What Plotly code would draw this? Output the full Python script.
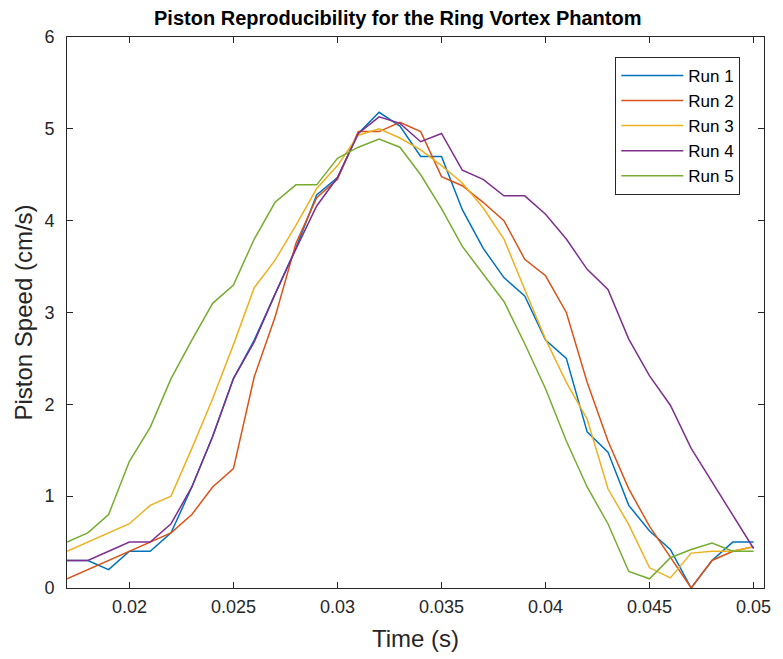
import plotly.graph_objects as go

# Sample times (s)
time_s = [0.017, 0.018, 0.019, 0.020, 0.021, 0.022, 0.023, 0.024, 0.025, 0.026,
          0.027, 0.028, 0.029, 0.030, 0.031, 0.032, 0.033, 0.034, 0.035, 0.036,
          0.037, 0.038, 0.039, 0.040, 0.041, 0.042, 0.043, 0.044, 0.045, 0.046,
          0.047, 0.048, 0.049, 0.050]

# Piston speed per run (cm/s)
run1 = [0.30, 0.30, 0.20, 0.40, 0.40, 0.60, 1.10, 1.65, 2.28, 2.70,
        3.20, 3.70, 4.28, 4.47, 4.95, 5.18, 5.03, 4.70, 4.70, 4.12,
        3.70, 3.38, 3.18, 2.70, 2.50, 1.70, 1.48, 0.90, 0.62, 0.42,
        0.00, 0.30, 0.50, 0.50]
run2 = [0.10, 0.20, 0.30, 0.40, 0.50, 0.60, 0.80, 1.10, 1.30, 2.30,
        2.95, 3.75, 4.25, 4.45, 4.97, 4.97, 5.07, 4.97, 4.48, 4.38,
        4.20, 4.00, 3.58, 3.40, 3.00, 2.24, 1.60, 1.08, 0.67, 0.33,
        0.00, 0.30, 0.40, 0.45]
run3 = [0.40, 0.50, 0.60, 0.70, 0.90, 1.00, 1.52, 2.06, 2.65, 3.27,
        3.57, 3.95, 4.35, 4.60, 4.93, 5.00, 4.90, 4.77, 4.60, 4.41,
        4.14, 3.80, 3.25, 2.71, 2.24, 1.84, 1.08, 0.69, 0.22, 0.11,
        0.38, 0.40, 0.40, 0.45]
run4 = [0.30, 0.30, 0.40, 0.50, 0.50, 0.70, 1.10, 1.65, 2.28, 2.68,
        3.20, 3.69, 4.16, 4.47, 4.95, 5.13, 5.06, 4.86, 4.95, 4.55,
        4.45, 4.27, 4.27, 4.07, 3.80, 3.47, 3.25, 2.71, 2.31, 1.99,
        1.52, 1.16, 0.80, 0.43]
run5 = [0.50, 0.60, 0.80, 1.38, 1.75, 2.28, 2.70, 3.10, 3.30, 3.80,
        4.20, 4.39, 4.39, 4.68, 4.80, 4.89, 4.80, 4.50, 4.13, 3.72,
        3.42, 3.12, 2.66, 2.17, 1.60, 1.10, 0.70, 0.18, 0.10, 0.33,
        0.42, 0.49, 0.40, 0.40]

run_names = ["Run 1", "Run 2", "Run 3", "Run 4", "Run 5"]
run_colors = ["#0072BD", "#D95319", "#EDB120", "#7E2F8E", "#77AC30"]

x_ticks = [0.02, 0.025, 0.03, 0.035, 0.04, 0.045, 0.05]
x_tick_text = ["0.02", "0.025", "0.03", "0.035", "0.04", "0.045", "0.05"]
y_ticks = [0, 1, 2, 3, 4, 5, 6]

fig = go.Figure()
for name, color, speeds in zip(run_names, run_colors,
                               [run1, run2, run3, run4, run5]):
    fig.add_trace(go.Scatter(x=time_s, y=speeds, mode="lines", name=name,
                             line=dict(color=color, width=1.5)))

axis_style = dict(showline=True, linecolor="#262626", linewidth=1,
                  mirror="ticks", ticks="inside", ticklen=6,
                  tickcolor="#262626", showgrid=False, zeroline=False,
                  tickfont=dict(family="Liberation Sans", size=18,
                                color="#262626"))

fig.update_layout(
    width=783, height=659,
    margin=dict(l=67, r=16, t=37, b=69),
    paper_bgcolor="white", plot_bgcolor="white",
    title=dict(text="<b>Piston Reproducibility for the Ring Vortex Phantom</b>",
               x=0.508, xanchor="center", y=0.973, yanchor="middle",
               font=dict(family="Liberation Sans", size=20, color="black")),
    xaxis=dict(range=[0.017, 0.0505], tickvals=x_ticks, ticktext=x_tick_text,
               ticklabelstandoff=2,
               title=dict(text="Time (s)", standoff=14,
                          font=dict(family="Liberation Sans", size=24,
                                    color="#262626")),
               **axis_style),
    yaxis=dict(range=[0, 6], tickvals=y_ticks, ticklabelstandoff=8,
               title=dict(text="Piston Speed (cm/s)", standoff=4,
                          font=dict(family="Liberation Sans", size=24,
                                    color="#262626")),
               **axis_style),
    legend=dict(x=0.966, y=0.964, xanchor="right", yanchor="top",
                bgcolor="white", bordercolor="#262626", borderwidth=1,
                itemwidth=62,
                font=dict(family="Liberation Sans", size=17, color="black")),
)

fig.write_html("out.html")
